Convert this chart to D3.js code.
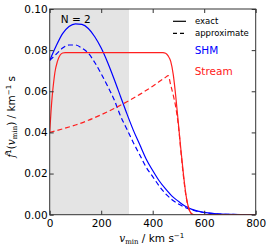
<!DOCTYPE html>
<html>
<head>
<meta charset="utf-8">
<script src="https://cdn.jsdelivr.net/npm/d3@7"></script>
<style>
  body { margin: 0; background: #fff; }
  text { font-family: "DejaVu Sans", sans-serif; }
</style>
</head>
<body>
<div id="chart"></div>
<script>
// velocity grid (km/s) and values
const shmV = [0, 25, 50, 75, 100, 125, 150, 175, 200, 225, 250, 275, 300, 325, 350, 375, 400, 425, 450, 475, 500, 525, 550, 575, 600, 650, 700, 750, 800];
const shmExact = [0.075, 0.082, 0.088, 0.0915, 0.0928, 0.0925, 0.0905, 0.0865, 0.081, 0.074, 0.066, 0.0575, 0.049, 0.041, 0.034, 0.027, 0.0215, 0.0165, 0.0125, 0.009, 0.0065, 0.0042, 0.0027, 0.0017, 0.0011, 0.0004, 0.00015, 0.00005, 0];
const shmApprox = [0.075, 0.078, 0.081, 0.0825, 0.0825, 0.081, 0.0785, 0.074, 0.0685, 0.0625, 0.056, 0.048, 0.0415, 0.035, 0.029, 0.023, 0.0185, 0.014, 0.0102, 0.0073, 0.0052, 0.0036, 0.0024, 0.0016, 0.001, 0.0004, 0.00015, 0.00005, 0];

const streamExactV = [0, 5, 10, 15, 20, 30, 40, 50, 60, 100, 200, 300, 400, 440, 450, 460, 470, 480, 490, 500, 510, 520, 530, 540, 550, 560, 800];
const streamExact = [0.040, 0.050, 0.058, 0.064, 0.069, 0.0745, 0.0775, 0.0786, 0.0788, 0.0788, 0.0788, 0.0788, 0.0788, 0.0788, 0.0785, 0.0772, 0.0745, 0.068, 0.057, 0.044, 0.031, 0.019, 0.009, 0.003, 0.0006, 0, 0];
const streamApproxV = [0, 50, 100, 150, 200, 250, 300, 350, 400, 450, 460, 470, 480, 490, 500, 510, 520, 530, 540, 550, 560, 800];
const streamApprox = [0.040, 0.0417, 0.0436, 0.0459, 0.0486, 0.0516, 0.0549, 0.0585, 0.0625, 0.0668, 0.0676, 0.063, 0.058, 0.052, 0.043, 0.030, 0.018, 0.0085, 0.003, 0.0005, 0, 0];

const xTicks = [0, 200, 400, 600, 800];
const yTicks = [0, 0.02, 0.04, 0.06, 0.08, 0.10];
const shadeEnd = 308;

const width = 270, height = 250;
const margin = { top: 9, right: 14.3, bottom: 35.3, left: 49.7 };
const innerW = width - margin.left - margin.right;
const innerH = height - margin.top - margin.bottom;

const svg = d3.select("#chart").append("svg")
  .attr("width", width)
  .attr("height", height);

const x = d3.scaleLinear().domain([0, 800]).range([margin.left, margin.left + innerW]);
const y = d3.scaleLinear().domain([0, 0.10]).range([margin.top + innerH, margin.top]);

svg.append("defs").append("clipPath").attr("id", "clip")
  .append("rect")
  .attr("x", margin.left).attr("y", margin.top)
  .attr("width", innerW).attr("height", innerH);

// shaded band
svg.append("rect")
  .attr("x", x(0)).attr("y", y(0.10))
  .attr("width", x(shadeEnd) - x(0))
  .attr("height", y(0) - y(0.10))
  .attr("fill", "#e4e4e4");

// curves
const line = d3.line().curve(d3.curveMonotoneX);
const series = [
  { v: shmV, f: shmExact, color: "#0000ff", dash: null },
  { v: shmV, f: shmApprox, color: "#0000ff", dash: "5,3" },
  { v: streamExactV, f: streamExact, color: "#ff2020", dash: null },
  { v: streamApproxV, f: streamApprox, color: "#ff2020", dash: "5,3" }
];
const g = svg.append("g").attr("clip-path", "url(#clip)");
series.forEach(function (s) {
  g.append("path")
    .attr("d", line(s.v.map(function (v, i) { return [x(v), y(s.f[i])]; })))
    .attr("fill", "none")
    .attr("stroke", s.color)
    .attr("stroke-width", 1.2)
    .attr("stroke-dasharray", s.dash);
});

// axes, ticks pointing inward on all four sides
const axisColor = "#333";
function styleAxis(sel) {
  sel.select(".domain").remove();
  sel.selectAll(".tick line").attr("stroke", axisColor);
  sel.selectAll("text").attr("fill", "#000").style("font-size", "10.5px");
}
svg.append("g")
  .attr("transform", "translate(0," + y(0) + ")")
  .call(d3.axisBottom(x).tickValues(xTicks).tickSize(-4).tickPadding(5).tickFormat(d3.format("d")))
  .call(styleAxis);
svg.append("g")
  .attr("transform", "translate(0," + y(0.10) + ")")
  .call(d3.axisTop(x).tickValues(xTicks).tickSize(-4).tickFormat(""))
  .call(styleAxis);
svg.append("g")
  .attr("transform", "translate(" + x(0) + ",0)")
  .call(d3.axisLeft(y).tickValues(yTicks).tickSize(-4).tickPadding(2).tickFormat(d3.format(".2f")))
  .call(styleAxis);
svg.append("g")
  .attr("transform", "translate(" + x(800) + ",0)")
  .call(d3.axisRight(y).tickValues(yTicks).tickSize(-4).tickFormat(""))
  .call(styleAxis);

svg.append("rect")
  .attr("x", x(0)).attr("y", y(0.10))
  .attr("width", x(800) - x(0)).attr("height", y(0) - y(0.10))
  .attr("fill", "none").attr("stroke", axisColor).attr("stroke-width", 1);

// N = 2 label
svg.append("text")
  .attr("x", 60.7).attr("y", 23.3)
  .style("font-size", "10.5px")
  .text("N = 2");

// legend
const legendX0 = 173, legendX1 = 186;
[{ y: 21.3, dash: null, label: "exact" }, { y: 33.3, dash: "4,3", label: "approximate" }].forEach(function (d) {
  svg.append("line")
    .attr("x1", legendX0).attr("x2", legendX1)
    .attr("y1", d.y).attr("y2", d.y)
    .attr("stroke", "#000").attr("stroke-width", 1.2)
    .attr("stroke-dasharray", d.dash);
  svg.append("text")
    .attr("x", 195).attr("y", d.y + 3)
    .style("font-size", "8.5px")
    .text(d.label);
});
svg.append("text").attr("x", 194.7).attr("y", 54.3)
  .attr("fill", "#0000ff").style("font-size", "10.5px").text("SHM");
svg.append("text").attr("x", 194.7).attr("y", 75)
  .attr("fill", "#ff2020").style("font-size", "10.5px").text("Stream");

// axis titles
const serif = "'DejaVu Serif', serif";
const xl = svg.append("text")
  .attr("x", x(400) - 1).attr("y", 242)
  .attr("text-anchor", "middle")
  .style("font-size", "10.5px");
xl.append("tspan").style("font-family", serif).style("font-style", "italic").text("v");
xl.append("tspan").attr("dy", 2).style("font-family", serif).style("font-size", "7px").text("min");
xl.append("tspan").attr("dy", -2).text(" / km s");
xl.append("tspan").attr("dy", -4).style("font-size", "7px").text("−1");

const yl = svg.append("text")
  .attr("transform", "translate(15," + (margin.top + innerH / 2 + 5) + ") rotate(-90)")
  .attr("text-anchor", "middle")
  .style("font-size", "10.5px");
yl.append("tspan").style("font-family", serif).style("font-style", "italic").text("f\u0302");
yl.append("tspan").attr("dy", -4).style("font-size", "7px").text("1");
yl.append("tspan").attr("dy", 4).style("font-family", serif).text("(");
yl.append("tspan").style("font-family", serif).style("font-style", "italic").text("v");
yl.append("tspan").attr("dy", 2).style("font-family", serif).style("font-size", "7px").text("min");
yl.append("tspan").attr("dy", -2).style("font-family", serif).text(")");
yl.append("tspan").text(" / km");
yl.append("tspan").attr("dy", -4).style("font-size", "7px").text("−1");
yl.append("tspan").attr("dy", 4).text(" s");
</script>
</body>
</html>
